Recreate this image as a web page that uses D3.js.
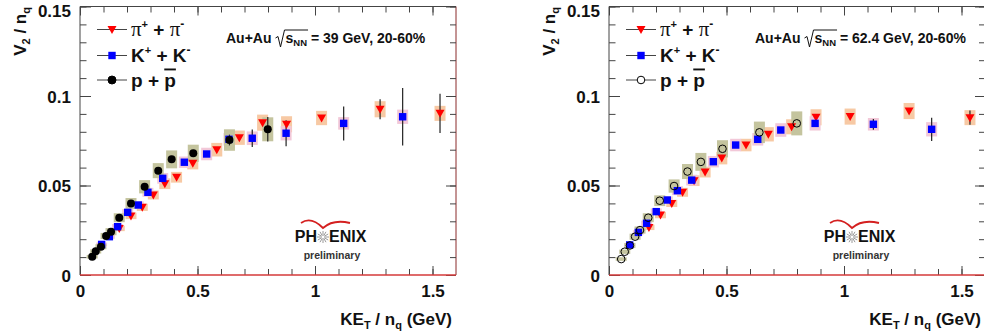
<!DOCTYPE html>
<html>
<head>
<meta charset="utf-8">
<script src="https://cdn.jsdelivr.net/npm/d3@7"></script>
<style>
  body { margin: 0; background: #fff; }
  svg { display: block; font-family: 'Liberation Sans', Arial, sans-serif; font-weight: bold; }
</style>
</head>
<body>
<div id="chart"></div>
<script>
// ---- data ----
const xMajor = [0, 0.5, 1, 1.5];
const xMajorLabels = ['0', '0.5', '1', '1.5'];
const yMajor = [0, 0.05, 0.1, 0.15];
const yMajorLabels = ['0', '0.05', '0.1', '0.15'];
const energies = ['39', '62.4'];

// 39 GeV
const pi39X = [0.167, 0.217, 0.265, 0.312, 0.361, 0.411, 0.480, 0.582, 0.678, 0.777, 0.879, 1.028, 1.277, 1.532];
const pi39Y = [0.026, 0.033, 0.0378, 0.0447, 0.051, 0.0546, 0.0625, 0.070, 0.0767, 0.0851, 0.0842, 0.0877, 0.0926, 0.0903];
const pi39Stat = [0.0004, 0.0004, 0.0005, 0.0005, 0.0006, 0.0007, 0.0008, 0.001, 0.0012, 0.0015, 0.002, 0.0025, 0.0056, 0.011];
const pi39Sys = [0.0015, 0.0018, 0.002, 0.0025, 0.003, 0.003, 0.0035, 0.0038, 0.004, 0.0045, 0.0045, 0.004, 0.0045, 0.0042];

const k39X = [0.092, 0.125, 0.160, 0.203, 0.248, 0.289, 0.352, 0.444, 0.539, 0.634, 0.733, 0.877, 1.122, 1.373];
const k39Y = [0.0171, 0.0214, 0.027, 0.035, 0.0391, 0.0462, 0.054, 0.063, 0.0676, 0.0758, 0.0764, 0.0792, 0.0847, 0.0884];
const k39Stat = [0.0003, 0.0004, 0.0004, 0.0005, 0.0005, 0.0006, 0.0007, 0.001, 0.0013, 0.002, 0.0049, 0.0073, 0.0095, 0.016];
const k39Sys = [0.001, 0.0012, 0.0015, 0.0018, 0.002, 0.0025, 0.003, 0.0032, 0.0035, 0.0035, 0.0038, 0.004, 0.0035, 0.004];

const p39X = [0.052, 0.067, 0.089, 0.111, 0.132, 0.167, 0.217, 0.275, 0.333, 0.390, 0.482, 0.636, 0.799];
const p39Y = [0.0102, 0.0132, 0.0158, 0.0218, 0.0242, 0.032, 0.040, 0.0493, 0.0583, 0.0646, 0.068, 0.0754, 0.0814];
const p39Stat = [0.0003, 0.0003, 0.0003, 0.0004, 0.0004, 0.0005, 0.0006, 0.0007, 0.0008, 0.001, 0.0012, 0.003, 0.0068];
const p39Sys = [0.001, 0.0012, 0.0014, 0.0017, 0.002, 0.0025, 0.003, 0.0037, 0.0042, 0.005, 0.0048, 0.006, 0.0067];

// 62.4 GeV
const pi62X = [0.170, 0.219, 0.267, 0.313, 0.362, 0.409, 0.480, 0.583, 0.678, 0.777, 0.881, 1.026, 1.277, 1.536];
const pi62Y = [0.0266, 0.0335, 0.040, 0.0462, 0.0527, 0.0575, 0.0653, 0.0726, 0.0786, 0.0828, 0.0881, 0.0885, 0.0916, 0.0879];
const pi62Stat = [0.0004, 0.0004, 0.0005, 0.0005, 0.0006, 0.0006, 0.0007, 0.0008, 0.001, 0.0012, 0.0015, 0.0018, 0.002, 0.004];
const pi62Sys = [0.0015, 0.0018, 0.002, 0.0025, 0.003, 0.003, 0.0035, 0.0035, 0.004, 0.0042, 0.0045, 0.0045, 0.0045, 0.0042];

const k62X = [0.088, 0.125, 0.160, 0.201, 0.248, 0.291, 0.352, 0.444, 0.539, 0.633, 0.731, 0.877, 1.125, 1.373];
const k62Y = [0.0168, 0.0238, 0.0289, 0.0354, 0.0419, 0.0471, 0.053, 0.0633, 0.0726, 0.0758, 0.081, 0.0847, 0.0842, 0.0814];
const k62Stat = [0.0003, 0.0004, 0.0004, 0.0005, 0.0005, 0.0006, 0.0007, 0.0008, 0.001, 0.0012, 0.0015, 0.0018, 0.003, 0.0065];
const k62Sys = [0.001, 0.0012, 0.0015, 0.0018, 0.002, 0.0025, 0.003, 0.0032, 0.0035, 0.0035, 0.0038, 0.004, 0.0035, 0.004];

const p62X = [0.052, 0.067, 0.089, 0.111, 0.132, 0.167, 0.216, 0.277, 0.334, 0.391, 0.483, 0.640, 0.799];
const p62Y = [0.0089, 0.013, 0.0165, 0.0214, 0.0251, 0.032, 0.0415, 0.0497, 0.0578, 0.0632, 0.0705, 0.0797, 0.0847];
const p62Stat = [0.0003, 0.0003, 0.0003, 0.0004, 0.0004, 0.0005, 0.0006, 0.0007, 0.0008, 0.001, 0.0012, 0.002, 0.002];
const p62Sys = [0.001, 0.0012, 0.0014, 0.0017, 0.002, 0.0025, 0.003, 0.0037, 0.0042, 0.005, 0.0048, 0.006, 0.0067];

// ---- layout ----
const W = 984, H = 336;
const panelLeft = [80, 609];
const plotW = 376;
const yTop = 6.5, yBottom = 275;
const boxColors = { pi: '#f7c9a4', k: '#f2c8d8', p: '#c4c49e' };

const zip = (xs, ys, st, sy) => xs.map((x, i) => ({ x, y: ys[i], stat: st[i], sys: sy[i] }));

const panels = [
  {
    energy: energies[0], openProton: false,
    pi: zip(pi39X, pi39Y, pi39Stat, pi39Sys),
    k: zip(k39X, k39Y, k39Stat, k39Sys),
    p: zip(p39X, p39Y, p39Stat, p39Sys),
  },
  {
    energy: energies[1], openProton: true,
    pi: zip(pi62X, pi62Y, pi62Stat, pi62Sys),
    k: zip(k62X, k62Y, k62Stat, k62Sys),
    p: zip(p62X, p62Y, p62Stat, p62Sys),
  },
];

const svg = d3.select('#chart').append('svg')
  .attr('width', W).attr('height', H);

const triPath = 'M-4.5,-3.5L4.5,-3.5L0,4.5Z';

function drawPanel(panel, left) {
  const x = d3.scaleLinear().domain([0, 1.6]).range([left, left + plotW]);
  const y = d3.scaleLinear().domain([0, 0.15]).range([yBottom, yTop]);
  const g = svg.append('g');
  const x0 = x(0), x1 = x(1.6);

  // frame
  g.append('line').attr('x1', x0).attr('x2', x1).attr('y1', yTop).attr('y2', yTop).attr('stroke', '#444');
  g.append('line').attr('x1', x0).attr('x2', x0).attr('y1', yTop).attr('y2', yBottom).attr('stroke', '#444');
  g.append('line').attr('x1', x1).attr('x2', x1).attr('y1', yTop).attr('y2', yBottom).attr('stroke', '#8a2a2a');

  // axes (ticks pointing in)
  const minorX = d3.range(0, 16).map(d => d / 10);
  const minorY = d3.range(0, 16).map(d => d / 100);
  const axStyle = s => { s.select('.domain').remove(); s.selectAll('line').attr('stroke', '#444'); };

  g.append('g').attr('transform', `translate(0,${yBottom})`)
    .call(d3.axisBottom(x).tickValues(minorX).tickSize(-6).tickFormat('')).call(axStyle);
  g.append('g').attr('transform', `translate(0,${yBottom})`)
    .call(d3.axisBottom(x).tickValues(xMajor).tickSize(-9).tickPadding(10)
      .tickFormat((d, i) => xMajorLabels[i])).call(axStyle)
    .selectAll('text').attr('font-size', 17).attr('font-weight', 'bold').attr('fill', '#111')
    .attr('font-family', 'Liberation Sans, Arial, sans-serif');
  g.append('g').attr('transform', `translate(0,${yTop})`)
    .call(d3.axisTop(x).tickValues(minorX).tickSize(-6).tickFormat('')).call(axStyle);
  g.append('g').attr('transform', `translate(0,${yTop})`)
    .call(d3.axisTop(x).tickValues(xMajor).tickSize(-9).tickFormat('')).call(axStyle);

  g.append('g').attr('transform', `translate(${x0},0)`)
    .call(d3.axisLeft(y).tickValues(minorY).tickSize(-6.5).tickFormat('')).call(axStyle);
  g.append('g').attr('transform', `translate(${x0},0)`)
    .call(d3.axisLeft(y).tickValues(yMajor).tickSize(-11).tickPadding(9)
      .tickFormat((d, i) => yMajorLabels[i])).call(axStyle)
    .selectAll('text').attr('font-size', 17).attr('font-weight', 'bold').attr('fill', '#111')
    .attr('font-family', 'Liberation Sans, Arial, sans-serif')
    .attr('dy', (d, i) => i === 3 ? '0.6em' : '0.38em');
  g.append('g').attr('transform', `translate(${x1},0)`)
    .call(d3.axisRight(y).tickValues(minorY).tickSize(-6).tickFormat('')).call(axStyle);
  g.append('g').attr('transform', `translate(${x1},0)`)
    .call(d3.axisRight(y).tickValues(yMajor).tickSize(-10).tickFormat('')).call(axStyle);

  // zero line (red)
  g.append('line').attr('x1', x0).attr('x2', x1).attr('y1', y(0)).attr('y2', y(0))
    .attr('stroke', '#d43a3a').attr('stroke-width', 1.3);

  // systematic boxes
  const series = [['pi', panel.pi], ['k', panel.k], ['p', panel.p]];
  series.forEach(([key, data]) => {
    g.append('g').selectAll('rect').data(data).enter().append('rect')
      .attr('x', d => x(d.x) - 5.5)
      .attr('width', 11)
      .attr('y', d => y(d.y + d.sys))
      .attr('height', d => y(d.y - d.sys) - y(d.y + d.sys))
      .attr('fill', boxColors[key]);
  });
  // stat bars, only where they stick out of the marker
  series.forEach(([key, data]) => {
    const shown = data.filter(d => y(d.y - d.stat) - y(d.y + d.stat) > 9);
    g.append('g').selectAll('line').data(shown).enter().append('line')
      .attr('x1', d => x(d.x)).attr('x2', d => x(d.x))
      .attr('y1', d => y(d.y + d.stat)).attr('y2', d => y(d.y - d.stat))
      .attr('stroke', '#222').attr('stroke-width', 1.2);
  });
  // markers
  g.append('g').selectAll('path').data(panel.pi).enter().append('path')
    .attr('d', triPath).attr('fill', '#ff0000')
    .attr('transform', d => `translate(${x(d.x)},${y(d.y)})`);
  g.append('g').selectAll('rect').data(panel.k).enter().append('rect')
    .attr('x', d => x(d.x) - 3.7).attr('y', d => y(d.y) - 3.7)
    .attr('width', 7.4).attr('height', 7.4).attr('fill', '#0000ff');
  g.append('g').selectAll('circle').data(panel.p).enter().append('circle')
    .attr('cx', d => x(d.x)).attr('cy', d => y(d.y))
    .attr('r', panel.openProton ? 3.8 : 4)
    .attr('fill', panel.openProton ? 'none' : '#000')
    .attr('stroke', '#000').attr('stroke-width', panel.openProton ? 1 : 0);

  // legend
  const lx = left + 17;
  const legend = [
    { y: 29.5, kind: 'pi' }, { y: 55.5, kind: 'k' }, { y: 80, kind: 'p' },
  ];
  legend.forEach(item => {
    g.append('line').attr('x1', lx).attr('x2', lx + 30).attr('y1', item.y).attr('y2', item.y)
      .attr('stroke', '#444').attr('stroke-width', 1);
    const mx = lx + 15;
    if (item.kind === 'pi') {
      g.append('path').attr('d', triPath).attr('fill', '#ff0000').attr('transform', `translate(${mx},${item.y})`);
    } else if (item.kind === 'k') {
      g.append('rect').attr('x', mx - 3.7).attr('y', item.y - 3.7).attr('width', 7.4).attr('height', 7.4).attr('fill', '#0000ff');
    } else {
      g.append('circle').attr('cx', mx).attr('cy', item.y).attr('r', panel.openProton ? 3.8 : 4)
        .attr('fill', panel.openProton ? '#fff' : '#000').attr('stroke', '#000');
    }
    const t = g.append('text').attr('x', lx + 34).attr('y', item.y + 6.5).attr('font-size', 19).attr('fill', '#111');
    if (item.kind === 'pi') {
      t.append('tspan').text('π').attr('font-family', 'Liberation Serif, serif').attr('font-weight', 'normal').attr('font-size', 21);
      t.append('tspan').text('+').attr('font-size', 11).attr('dy', -8);
      t.append('tspan').text(' + ').attr('dy', 8);
      t.append('tspan').text('π').attr('font-family', 'Liberation Serif, serif').attr('font-weight', 'normal').attr('font-size', 21);
      t.append('tspan').text('-').attr('font-size', 12).attr('dy', -8);
    } else if (item.kind === 'k') {
      t.append('tspan').text('K');
      t.append('tspan').text('+').attr('font-size', 11).attr('dy', -8);
      t.append('tspan').text(' + K').attr('dy', 8);
      t.append('tspan').text('-').attr('font-size', 12).attr('dy', -8);
    } else {
      t.append('tspan').text('p + ');
      t.append('tspan').text('p').style('text-decoration', 'overline');
    }
  });

  // energy label
  const ax = left + 146, ay = 43;
  const t1 = g.append('text').attr('x', ax).attr('y', ay).attr('font-size', 14).attr('fill', '#111').text('Au+Au');
  const w1 = t1.node().getComputedTextLength();
  const rx = ax + w1 + 4;
  const t2 = g.append('text').attr('x', rx + 10).attr('y', ay).attr('font-size', 14).attr('fill', '#111');
  t2.append('tspan').text('s');
  t2.append('tspan').text('NN').attr('font-size', 9.5).attr('dy', 3);
  const wS = t2.node().getComputedTextLength();
  t2.append('tspan').text(` = ${panel.energy} GeV, 20-60%`).attr('dy', -3);
  g.append('path')
    .attr('d', `M${rx},${ay - 5}L${rx + 2.5},${ay - 6.5}L${rx + 5},${ay + 4}L${rx + 9},${ay - 13}L${rx + 11 + wS},${ay - 13}`)
    .attr('fill', 'none').attr('stroke', '#111').attr('stroke-width', 1);

  // PHENIX logo
  const cx = left + 243, cy = 236;
  g.append('path')
    .attr('d', `M${cx - 22},${cy - 13}Q${cx - 12},${cy - 20} ${cx},${cy - 8}Q${cx + 10},${cy - 17} ${cx + 27},${cy - 13}`)
    .attr('fill', 'none').attr('stroke', '#d42020').attr('stroke-width', 1.8);
  g.append('text').attr('x', cx - 6).attr('y', cy + 6).attr('text-anchor', 'end')
    .attr('font-size', 16).attr('fill', '#111').text('PH');
  g.append('text').attr('x', cx + 6).attr('y', cy + 6)
    .attr('font-size', 16).attr('fill', '#111').text('ENIX');
  d3.range(12).forEach(i => {
    const a = i * Math.PI / 6;
    g.append('line')
      .attr('x1', cx + 1.5 * Math.cos(a)).attr('y1', cy + 1 + 1.5 * Math.sin(a))
      .attr('x2', cx + 6 * Math.cos(a)).attr('y2', cy + 1 + 6 * Math.sin(a))
      .attr('stroke', '#9a9a9a').attr('stroke-width', 1);
  });
  g.append('text').attr('x', cx + 9).attr('y', cy + 23).attr('text-anchor', 'middle')
    .attr('font-size', 10.5).attr('fill', '#333').text('preliminary');

  // axis titles
  const xt = g.append('text').attr('x', x1 - 4).attr('y', 325).attr('text-anchor', 'end')
    .attr('font-size', 17).attr('fill', '#111');
  xt.append('tspan').text('KE');
  xt.append('tspan').text('T').attr('font-size', 11).attr('dy', 4);
  xt.append('tspan').text(' / n').attr('dy', -4);
  xt.append('tspan').text('q').attr('font-size', 11).attr('dy', 4);
  xt.append('tspan').text(' (GeV)').attr('dy', -4);

  const yt = g.append('text').attr('transform', `translate(${left - 54},7) rotate(-90)`)
    .attr('text-anchor', 'end').attr('font-size', 17).attr('fill', '#111');
  yt.append('tspan').text('V');
  yt.append('tspan').text('2').attr('font-size', 11).attr('dy', 4);
  yt.append('tspan').text(' / n').attr('dy', -4);
  yt.append('tspan').text('q').attr('font-size', 11).attr('dy', 4);
}

panels.forEach((p, i) => drawPanel(p, panelLeft[i]));
</script>
</body>
</html>
